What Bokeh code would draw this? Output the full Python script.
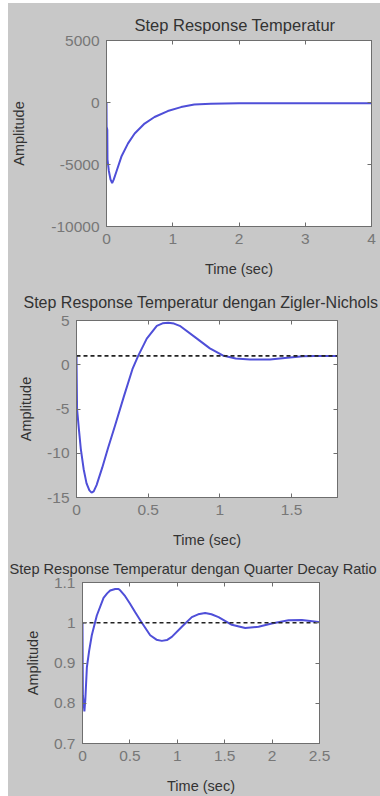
from bokeh.plotting import figure
from bokeh.models import FixedTicker, LinearAxis, Range1d, Title
from bokeh.layouts import column
from bokeh.embed import file_html
from bokeh.resources import INLINE

# ---------------- data ----------------
titles = [
    "Step Response Temperatur",
    "Step Response Temperatur dengan Zigler-Nichols",
    "Step Response Temperatur dengan Quarter Decay Ratio",
]
x_label = "Time (sec)"
y_label = "Amplitude"

# panel 1: open-loop step response
t1 = [0, 0.002, 0.012, 0.015, 0.035, 0.06, 0.085, 0.11, 0.15, 0.225, 0.325, 0.425,
      0.575, 0.725, 0.925, 1.125, 1.325, 1.575, 2.0, 2.5, 3.0, 3.5, 4.0]
y1 = [0, -1950, -2200, -4600, -5500, -6200, -6500, -6200, -5560, -4360, -3300, -2500,
      -1700, -1170, -690, -370, -160, -100, -60, -60, -60, -60, -60]
x1_ticks = [0, 1, 2, 3, 4]
x1_tick_labels = ["0", "1", "2", "3", "4"]
y1_ticks = [-10000, -5000, 0, 5000]
y1_tick_labels = ["-10000", "-5000", "0", "5000"]

# panel 2: Ziegler-Nichols
t2 = [0, 0.004, 0.015, 0.03, 0.05, 0.07, 0.09, 0.105, 0.12, 0.14, 0.18, 0.22, 0.27,
      0.33, 0.39, 0.43, 0.49, 0.56, 0.60, 0.64, 0.68, 0.72, 0.84, 0.93, 1.02, 1.11,
      1.21, 1.35, 1.47, 1.58, 1.66, 1.82]
y2 = [1.0, -5.0, -7.0, -9.5, -11.8, -13.4, -14.2, -14.45, -14.3, -13.6, -11.6, -9.4, -6.8,
      -3.6, -0.5, 1.0, 2.95, 4.4, 4.68, 4.75, 4.65, 4.4, 2.95, 1.85, 1.05, 0.7,
      0.6, 0.6, 0.8, 0.95, 1.0, 1.0]
x2_ticks = [0, 0.5, 1, 1.5]
x2_tick_labels = ["0", "0.5", "1", "1.5"]
y2_ticks = [-15, -10, -5, 0, 5]
y2_tick_labels = ["-15", "-10", "-5", "0", "5"]

# panel 3: Quarter Decay Ratio
t3 = [0, 0.004, 0.02, 0.03, 0.046, 0.07, 0.098, 0.151, 0.222, 0.26, 0.292, 0.345, 0.38,
      0.40, 0.45, 0.50, 0.556, 0.626, 0.714, 0.78, 0.837, 0.89, 0.942, 1.048, 1.153,
      1.22, 1.294, 1.36, 1.435, 1.575, 1.716, 1.857, 1.997, 2.173, 2.314, 2.489, 2.5]
y3 = [1.0, 0.82, 0.78, 0.81, 0.889, 0.93, 0.969, 1.018, 1.062, 1.073, 1.080, 1.084, 1.084,
      1.08, 1.066, 1.048, 1.026, 1.0, 0.969, 0.958, 0.955, 0.957, 0.965, 0.99, 1.014,
      1.021, 1.024, 1.021, 1.014, 0.995, 0.987, 0.99, 0.998, 1.006, 1.007, 1.002, 1.0]
x3_ticks = [0, 0.5, 1, 1.5, 2, 2.5]
x3_tick_labels = ["0", "0.5", "1", "1.5", "2", "2.5"]
y3_ticks = [0.7, 0.8, 0.9, 1.0, 1.1]
y3_tick_labels = ["0.7", "0.8", "0.9", "1", "1.1"]

final_value = 1.0

# ---------------- style ----------------
BG = "#c8c8c8"
FRAME = "#6e6e6e"
TICK_TXT = "#777777"
TXT = "#333333"
LINE = "#4f4fd8"
FONT = "Liberation Sans"


def panel(width, height, borders, xr, yr, xt, xtl, yt, ytl, title, title_size,
          title_offset, title_standoff, ylab_standoff, xlab_standoff):
    left, right, top, bottom = borders
    p = figure(width=width, height=height, x_range=Range1d(*xr), y_range=Range1d(*yr),
               output_backend="svg", toolbar_location=None,
               min_border_left=left, min_border_right=right,
               min_border_top=top, min_border_bottom=bottom)
    p.background_fill_color = "white"
    p.border_fill_color = BG
    p.outline_line_color = FRAME
    p.outline_line_width = 1
    p.grid.visible = False
    p.title = Title(text=title, align="left", offset=title_offset, standoff=title_standoff,
                    text_font=FONT, text_font_size=title_size, text_font_style="normal",
                    text_color=TXT)

    xa = p.below[0]
    xa.ticker = FixedTicker(ticks=xt)
    xa.major_label_overrides = {v: s for v, s in zip(xt, xtl)}
    ya = p.left[0]
    ya.ticker = FixedTicker(ticks=yt)
    ya.major_label_overrides = {v: s for v, s in zip(yt, ytl)}
    for ax in (xa, ya):
        ax.major_tick_in = 4
        ax.major_tick_out = 0
        ax.minor_tick_in = 0
        ax.minor_tick_out = 0
        ax.major_tick_line_color = FRAME
        ax.axis_line_color = FRAME
        ax.major_label_text_font = FONT
        ax.major_label_text_font_size = "15.5px"
        ax.major_label_text_color = TICK_TXT
        ax.major_label_standoff = 7
        ax.axis_label_text_font = FONT
        ax.axis_label_text_font_size = "14.5px"
        ax.axis_label_text_font_style = "normal"
        ax.axis_label_text_color = TXT
    xa.axis_label = x_label
    xa.axis_label_standoff = xlab_standoff
    ya.axis_label = y_label
    ya.axis_label_standoff = ylab_standoff

    # box ticks on the top and right edges (no labels)
    for loc, ticks in (("above", xt), ("right", yt)):
        ax = LinearAxis(ticker=FixedTicker(ticks=ticks),
                        major_label_overrides={v: "" for v in ticks},
                        major_label_text_font_size="1px",
                        major_label_standoff=0, major_tick_in=4, major_tick_out=0,
                        minor_tick_in=0, minor_tick_out=0,
                        major_tick_line_color=FRAME, axis_line_color=FRAME)
        p.add_layout(ax, loc)
    return p


p1 = panel(372, 276, (97, 9, 37, 50), (0, 4), (-10000, 5000),
           x1_ticks, x1_tick_labels, y1_ticks, y1_tick_labels,
           titles[0], "16.5px", 28, 14, 21, 14)
p1.line(t1, y1, line_color=LINE, line_width=2)

p2 = panel(372, 271, (68, 43, 41, 51), (0, 1.82), (-15, 5),
           x2_ticks, x2_tick_labels, y2_ticks, y2_tick_labels,
           titles[1], "16px", -53, 20, 10, 14)
p2.line(t2, y2, line_color=LINE, line_width=2)
p2.line([0, 1.82], [final_value, final_value], line_color="#222222", line_width=1.6,
        line_dash="4 3")

p3 = panel(372, 246, (74, 61, 32, 49), (0, 2.5), (0.7, 1.1),
           x3_ticks, x3_tick_labels, y3_ticks, y3_tick_labels,
           titles[2], "14.6px", -73, 12, 10, 14)
p3.line(t3, y3, line_color=LINE, line_width=2)
p3.line([0, 2.5], [final_value, final_value], line_color="#222222", line_width=1.6,
        line_dash="4 3")

layout = column(column(p1, margin=0, spacing=0), column(p2, margin=0, spacing=0),
                column(p3, margin=0, spacing=0), spacing=0, margin=(3, 0, 0, 8),
                styles={"background-color": BG})
open("out.html", "w").write(file_html(layout, INLINE))
